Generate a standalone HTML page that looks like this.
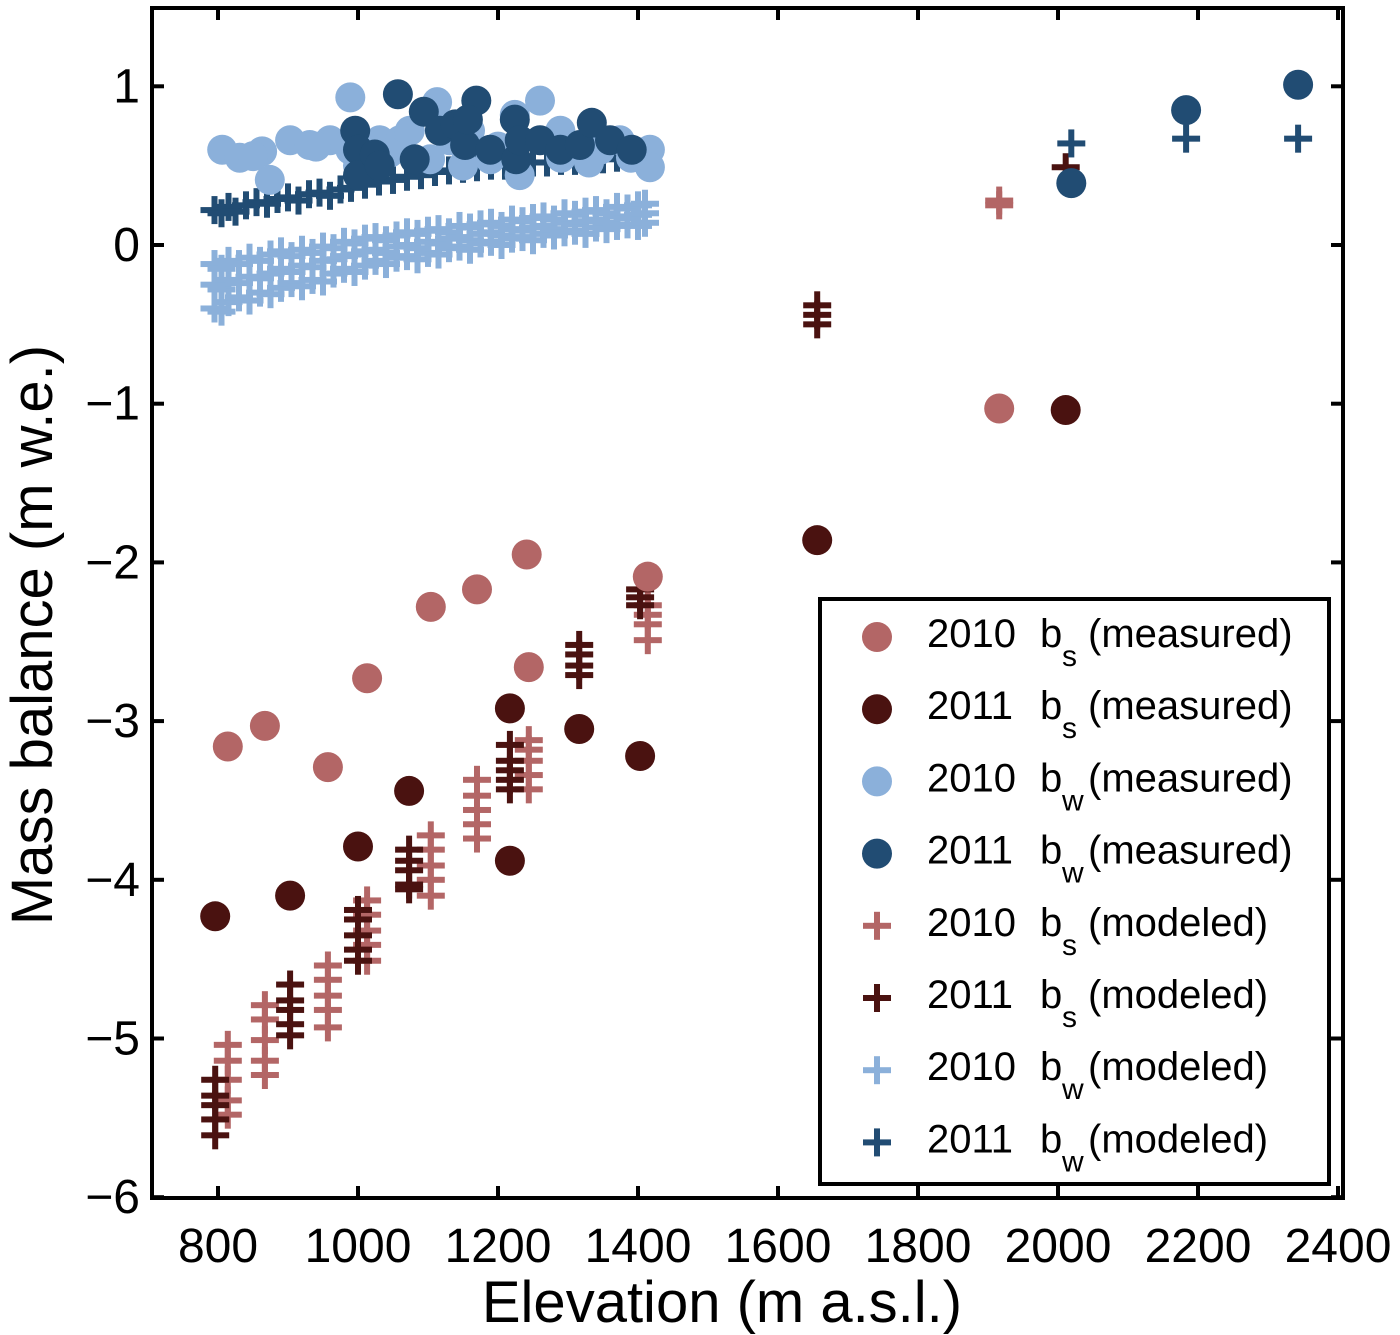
<!DOCTYPE html>
<html><head><meta charset="utf-8"><style>
html,body{margin:0;padding:0;background:#fff;}
svg{display:block;font-family:"Liberation Sans",sans-serif;}
</style></head><body>
<svg id="chart" width="1400" height="1335" viewBox="0 0 1400 1335" xmlns="http://www.w3.org/2000/svg">
<g id="marks"></g>
<rect x="152" y="8" width="1191" height="1190" fill="none" stroke="#000" stroke-width="4"/>
<g id="axes"></g>
<text x="722" y="1322" font-size="58" text-anchor="middle">Elevation (m a.s.l.)</text>
<text transform="translate(52,635) rotate(-90)" font-size="58" text-anchor="middle">Mass balance (m w.e.)</text>
<g id="legend"></g>
</svg>
<script>
const xTicks=[800,1000,1200,1400,1600,1800,2000,2200,2400];
const yTicks=[1,0,-1,-2,-3,-4,-5,-6];
const bs10MeasE=[814,867,957,1013,1104,1170,1241,1244,1414,1916];
const bs10MeasV=[-3.16,-3.03,-3.29,-2.73,-2.28,-2.17,-1.95,-2.66,-2.09,-1.03];
const bs11MeasE=[796,903,1000,1073,1217,1217,1316,1403,1656,2011];
const bs11MeasV=[-4.23,-4.10,-3.79,-3.44,-2.92,-3.88,-3.05,-3.22,-1.86,-1.04];
const bw10MeasE=[806,831,863,874,903,931,960,989,989,1031,1060,1074,1113,1131,1160,1189,1224,1260,1289,1317,1346,1374,1417,1417,1103,1231,1000,1290,850,940,1045,1150,1200,1330,1390];
const bw10MeasV=[0.60,0.55,0.59,0.41,0.66,0.63,0.66,0.60,0.93,0.66,0.66,0.72,0.90,0.66,0.72,0.54,0.82,0.91,0.72,0.60,0.60,0.66,0.60,0.49,0.54,0.44,0.50,0.55,0.56,0.62,0.58,0.50,0.62,0.52,0.55];
const bw11MeasE=[1057,996,1000,1000,1024,1031,1094,1081,1117,1139,1153,1169,1157,1189,1224,1226,1231,1260,1289,1317,1334,1360,1391,2019,2183,2343];
const bw11MeasV=[0.95,0.72,0.60,0.44,0.57,0.50,0.84,0.54,0.72,0.76,0.63,0.91,0.79,0.60,0.79,0.54,0.66,0.66,0.60,0.63,0.77,0.66,0.60,0.39,0.85,1.01];
const bs10ModE=[814,814,814,814,814,867,867,867,867,867,957,957,957,957,957,1013,1013,1013,1013,1013,1104,1104,1104,1104,1104,1170,1170,1170,1170,1170,1244,1244,1244,1244,1244,1414,1414,1414,1414,1916,1916];
const bs10ModV=[-5.04,-5.14,-5.26,-5.39,-5.48,-4.79,-4.88,-5.01,-5.14,-5.23,-4.54,-4.63,-4.73,-4.82,-4.93,-4.13,-4.22,-4.32,-4.41,-4.51,-3.72,-3.81,-3.91,-4.00,-4.10,-3.37,-3.47,-3.56,-3.65,-3.74,-3.12,-3.18,-3.25,-3.34,-3.43,-2.27,-2.33,-2.39,-2.49,0.28,0.25];
const bs11ModE=[796,796,796,796,796,903,903,903,903,903,1000,1000,1000,1000,1000,1073,1073,1073,1073,1073,1217,1217,1217,1217,1217,1316,1316,1316,1316,1403,1403,1403,1656,1656,1656,2011];
const bs11ModV=[-5.26,-5.36,-5.42,-5.51,-5.61,-4.66,-4.76,-4.82,-4.91,-4.98,-4.19,-4.25,-4.35,-4.44,-4.51,-3.81,-3.88,-3.94,-4.03,-4.06,-3.15,-3.25,-3.31,-3.37,-3.43,-2.52,-2.58,-2.65,-2.71,-2.17,-2.22,-2.27,-0.38,-0.44,-0.50,0.49];
const bw10ModE=[795,805,815,830,845,860,875,890,905,920,935,950,965,980,995,1010,1025,1040,1055,1070,1085,1100,1115,1130,1145,1160,1175,1190,1205,1220,1235,1250,1265,1280,1295,1310,1325,1340,1355,1370,1385,1400,1410];
const bw10ModUpper=[-0.12,-0.15,-0.10,-0.12,-0.08,-0.10,-0.06,-0.04,-0.07,-0.03,-0.05,-0.01,-0.02,0.02,0.01,0.04,0.05,0.03,0.06,0.08,0.07,0.09,0.10,0.08,0.12,0.11,0.13,0.14,0.12,0.16,0.15,0.17,0.18,0.16,0.20,0.19,0.21,0.22,0.20,0.24,0.23,0.25,0.26];
const bw10ModMid=[-0.25,-0.28,-0.22,-0.24,-0.20,-0.21,-0.18,-0.15,-0.17,-0.13,-0.14,-0.10,-0.09,-0.07,-0.06,-0.04,-0.03,-0.05,-0.01,0.00,-0.02,0.02,0.01,0.04,0.05,0.03,0.07,0.08,0.06,0.10,0.09,0.11,0.12,0.10,0.14,0.13,0.15,0.16,0.14,0.18,0.17,0.19,0.20];
const bw10ModLower=[-0.40,-0.42,-0.36,-0.33,-0.35,-0.30,-0.31,-0.27,-0.24,-0.26,-0.22,-0.23,-0.18,-0.15,-0.17,-0.13,-0.10,-0.12,-0.08,-0.07,-0.09,-0.05,-0.06,-0.02,-0.01,-0.03,0.01,0.02,0.00,0.04,0.05,0.03,0.07,0.06,0.08,0.09,0.07,0.11,0.10,0.12,0.13,0.12,0.14];
const bw11ModE=[795,805,815,825,840,855,870,885,900,915,930,945,960,975,990,1010,1030,1050,1070,1090,1110,1130,1150,1170,1190,1210,1230,1250,1270,1290,1310,1330,1350,1370,1390,2019,2183,2343];
const bw11ModV=[0.22,0.20,0.24,0.21,0.25,0.27,0.26,0.29,0.30,0.28,0.32,0.33,0.31,0.35,0.36,0.38,0.40,0.41,0.43,0.44,0.46,0.47,0.48,0.49,0.50,0.50,0.51,0.52,0.52,0.53,0.53,0.54,0.54,0.55,0.55,0.64,0.67,0.67];
const legendLabels=["2010","2011","2010","2011","2010","2011","2010","2011"];
const legendSubs=["s","s","w","w","s","s","w","w"];
const legendKinds=["(measured)","(measured)","(measured)","(measured)","(modeled)","(modeled)","(modeled)","(modeled)"];

const C={p:"#b36666",r:"#4a1210",lb:"#8bb0da",db:"#214c73"};
const xs=e=>218+(e-800)*0.7;
const ys=v=>245-v*158.7;
const NS="http://www.w3.org/2000/svg";
const marks=document.getElementById('marks');
function mk(tag,attrs,parent){const el=document.createElementNS(NS,tag);for(const k in attrs)el.setAttribute(k,attrs[k]);parent.appendChild(el);return el;}
function plus(cx,cy,col,parent,name){
  const g=mk('g',{},parent);
  
  
  mk('rect',{x:cx-14,y:cy-3,width:28,height:6,fill:col},g);
  mk('rect',{x:cx-3,y:cy-14,width:6,height:28,fill:col},g);
}
function circ(cx,cy,col,parent,name){
  const c=mk('circle',{cx:cx,cy:cy,r:15,fill:col},parent);
  
  
}
bs10ModE.forEach((e,i)=>plus(xs(e),ys(bs10ModV[i]),C.p,marks,'bs-2010-modeled-point'));
bs11ModE.forEach((e,i)=>plus(xs(e),ys(bs11ModV[i]),C.r,marks,'bs-2011-modeled-point'));
bw10ModE.forEach((e,i)=>{plus(xs(e),ys(bw10ModUpper[i]),C.lb,marks,'bw-2010-modeled-point');plus(xs(e),ys(bw10ModMid[i]),C.lb,marks,'bw-2010-modeled-point');plus(xs(e),ys(bw10ModLower[i]),C.lb,marks,'bw-2010-modeled-point');});
bw11ModE.forEach((e,i)=>plus(xs(e),ys(bw11ModV[i]),C.db,marks,'bw-2011-modeled-point'));
bs10MeasE.forEach((e,i)=>circ(xs(e),ys(bs10MeasV[i]),C.p,marks,'bs-2010-measured-point'));
bs11MeasE.forEach((e,i)=>circ(xs(e),ys(bs11MeasV[i]),C.r,marks,'bs-2011-measured-point'));
bw10MeasE.forEach((e,i)=>circ(xs(e),ys(bw10MeasV[i]),C.lb,marks,'bw-2010-measured-point'));
bw11MeasE.forEach((e,i)=>circ(xs(e),ys(bw11MeasV[i]),C.db,marks,'bw-2011-measured-point'));

const axes=document.getElementById('axes');
xTicks.forEach(t=>{
  const x=xs(t);
  mk('line',{x1:x,y1:1198,x2:x,y2:1186,stroke:'#000','stroke-width':4},axes);
  mk('line',{x1:x,y1:8,x2:x,y2:20,stroke:'#000','stroke-width':4},axes);
  const tx=mk('text',{x:x,y:1262,'font-size':48,'text-anchor':'middle'},axes);
  tx.textContent=t;
  
  
});
yTicks.forEach(t=>{
  const y=ys(t);
  mk('line',{x1:152,y1:y,x2:164,y2:y,stroke:'#000','stroke-width':4},axes);
  mk('line',{x1:1343,y1:y,x2:1331,y2:y,stroke:'#000','stroke-width':4},axes);
  const tx=mk('text',{x:140,y:y+16,'font-size':48,'text-anchor':'end'},axes);
  tx.textContent=(t<0?'\u2212'+(-t):String(t));
  
  
});

const lg=document.getElementById('legend');
mk('rect',{x:820,y:599,width:509,height:585,fill:'#fff',stroke:'#000','stroke-width':4},lg);
const lcols=[C.p,C.r,C.lb,C.db,C.p,C.r,C.lb,C.db];
legendLabels.forEach((lab,i)=>{
  const y=634+i*72.2;
  const g=mk('g',{},lg);
  
  
  if(i<4)circ(877,y+3,lcols[i],g,'legend-marker');else plus(877,y+3,lcols[i],g,'legend-marker');
  const t=mk('text',{x:927,y:y+13,'font-size':40},g);
  t.textContent=lab;
  const b=mk('text',{x:1040,y:y+13,'font-size':40},g);
  b.textContent='b';
  const s=mk('text',{x:1062,y:y+32,'font-size':30},g);
  s.textContent=legendSubs[i];
  const k=mk('text',{x:1088,y:y+13,'font-size':40},g);
  k.textContent=legendKinds[i];
});
</script>
</body></html>
